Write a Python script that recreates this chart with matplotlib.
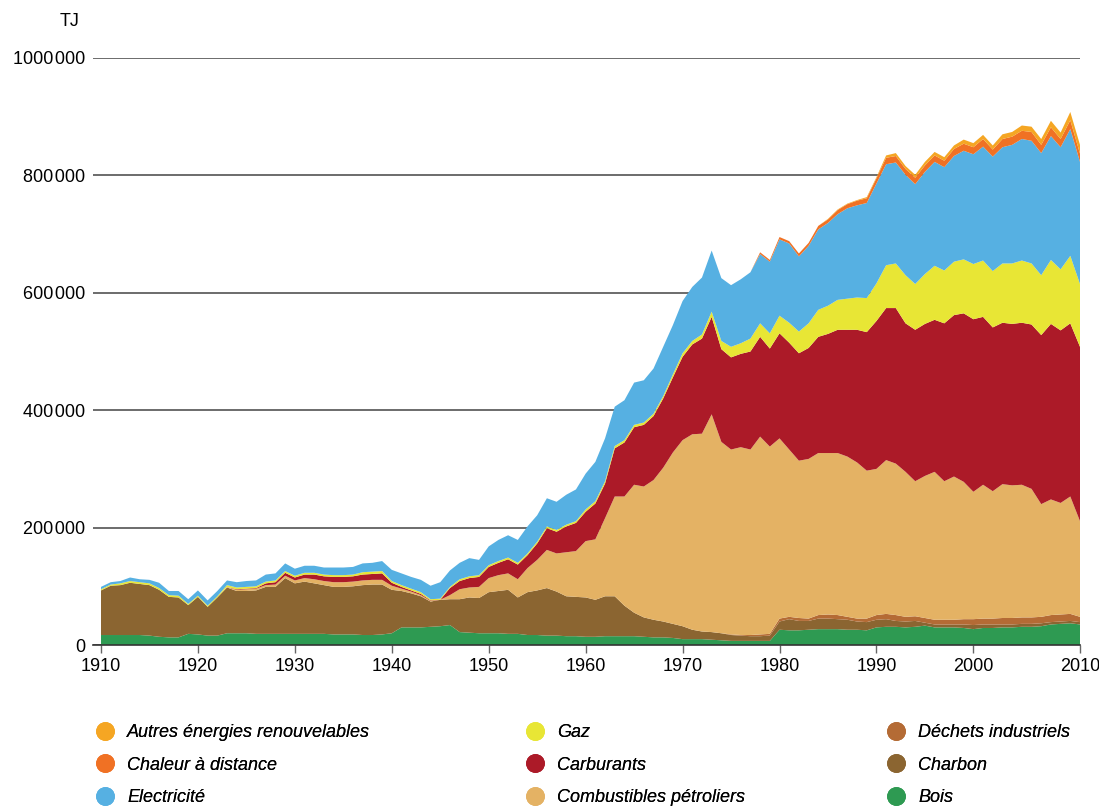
import numpy as np
import matplotlib
matplotlib.use("Agg")
import matplotlib.pyplot as plt
from matplotlib.lines import Line2D

plt.rcParams["font.family"] = ["Liberation Sans", "DejaVu Sans"]

# final energy consumption by carrier, in 1000 TJ, 1910-2011
years = np.arange(1910, 2012)

bois = [17, 17, 17, 17, 17, 16, 14, 13, 13, 19,
        18, 16, 16, 20, 20, 20, 19, 19, 19, 19,
        19, 19, 19, 19, 18, 18, 18, 17, 17, 18,
        20, 30, 30, 30, 31, 32, 34, 22, 21, 20,
        20, 20, 19, 19, 17, 17, 16, 16, 15, 15,
        14, 14, 15, 15, 15, 15, 14, 13, 13, 12,
        10, 10, 10, 9, 8, 7, 7, 7, 7, 7,
        26, 25, 25, 26, 27, 27, 27, 26, 26, 25,
        30, 31, 31, 30, 31, 33, 30, 30, 30, 29,
        27, 29, 29, 30, 30, 31, 31, 32, 35, 36,
        37, 35]
charbon = [76, 84, 85, 89, 87, 86, 80, 69, 68, 49,
           64, 49, 65, 78, 72, 72, 74, 80, 80, 95,
           86, 89, 86, 83, 81, 81, 82, 85, 86, 85,
           74, 62, 58, 53, 43, 45, 44, 56, 60, 60,
           70, 72, 75, 62, 73, 76, 81, 75, 68, 67,
           67, 63, 68, 68, 52, 40, 33, 30, 27, 24,
           22, 16, 13, 13, 12, 10, 9, 8, 8, 9,
           14, 19, 16, 15, 18, 18, 17, 17, 14, 14,
           13, 13, 10, 10, 10, 5, 5, 5, 5, 6,
           7, 6, 6, 5, 5, 5, 5, 5, 4, 4,
           4, 4]
dechets = [0] * 65 + [1, 1, 2, 3, 3,
                      5, 4, 5, 4, 6, 7, 7, 5, 5, 6,
                      8, 9, 10, 8, 8, 8, 8, 8, 8, 9,
                      10, 10, 10, 11, 11, 11, 11, 11, 12, 12,
                      12, 9]
petroliers = [0] * 10 + [0, 0, 0, 1, 2, 3, 3, 3, 4, 4,
                         5, 6, 7, 7, 8, 8, 8, 8, 8, 8,
                         7, 4, 3, 2, 1, 0, 7, 17, 17, 19,
                         24, 27, 28, 31, 41, 52, 65, 65, 75, 78,
                         96, 103, 133, 170, 186, 218, 223, 238, 262, 292,
                         317, 333, 337, 371, 326, 315, 320, 316, 337, 319,
                         307, 285, 268, 272, 276, 275, 276, 273, 266, 252,
                         249, 262, 258, 247, 230, 242, 252, 236, 244, 234,
                         217, 228, 217, 228, 226, 226, 219, 192, 197, 190,
                         200, 163]
carburants = [0] * 10 + [0, 0, 0, 0, 1, 1, 1, 3, 4, 5,
                         5, 6, 8, 8, 9, 9, 9, 10, 10, 11,
                         5, 3, 2, 2, 1, 0, 12, 14, 16, 17,
                         19, 21, 24, 25, 22, 28, 37, 37, 44, 48,
                         50, 61, 59, 82, 92, 98, 105, 109, 118, 128,
                         142, 153, 162, 166, 158, 157, 159, 167, 170, 167,
                         179, 182, 183, 189, 198, 203, 210, 216, 226, 236,
                         252, 259, 265, 253, 258, 259, 259, 269, 275, 287,
                         294, 286, 279, 275, 275, 276, 280, 288, 299, 294,
                         295, 297]
gaz = [2, 2, 3, 3, 3, 3, 3, 3, 3, 2,
       2, 2, 2, 3, 3, 3, 3, 3, 3, 3,
       3, 3, 3, 3, 3, 3, 3, 4, 4, 4,
       3, 3, 3, 3, 2, 2, 2, 3, 3, 3,
       3, 3, 3, 3, 3, 3, 3, 3, 3, 3,
       4, 4, 4, 4, 4, 4, 4, 4, 4, 5,
       6, 6, 7, 9, 14, 18, 18, 22, 23, 26,
       30, 34, 37, 42, 46, 48, 51, 53, 55, 58,
       64, 73, 76, 82, 78, 85, 92, 90, 91, 92,
       94, 96, 96, 101, 103, 106, 104, 102, 109, 104,
       115, 107]
electricite = [4, 4, 4, 6, 5, 6, 9, 7, 8, 8,
               9, 9, 9, 8, 9, 10, 10, 12, 12, 13,
               12, 12, 12, 12, 13, 13, 13, 15, 15, 17,
               19, 20, 20, 21, 23, 28, 28, 28, 31, 26,
               32, 36, 38, 39, 46, 45, 48, 48, 51, 54,
               61, 67, 73, 67, 68, 72, 72, 77, 84, 84,
               89, 92, 97, 104, 107, 105, 109, 113, 118, 122,
               130, 135, 128, 132, 137, 141, 146, 154, 157, 162,
               170, 172, 172, 171, 170, 174, 177, 176, 180, 185,
               187, 194, 195, 198, 202, 207, 209, 208, 211, 208,
               216, 208]
chaleur = [0] * 68 + [3, 3,
                      4, 4, 5, 5, 6, 6, 7, 7, 8, 8,
                      9, 11, 11, 10, 11, 11, 11, 11, 12, 12,
                      12, 13, 12, 14, 14, 14, 15, 14, 15, 14,
                      15, 14]
autres = [0] * 75 + [1, 1, 1, 1, 2,
                     2, 4, 5, 5, 5, 6, 6, 6, 6, 7,
                     7, 7, 7, 8, 8, 9, 9, 10, 11, 11,
                     14, 15]

labels = ["Bois", "Charbon", "Déchets industriels", "Combustibles pétroliers",
          "Carburants", "Gaz", "Electricité", "Chaleur à distance",
          "Autres énergies renouvelables"]
colors = ["#2e9a52", "#8b6531", "#b46b35", "#e4b264", "#ac1a28",
          "#e8e635", "#56b0e2", "#f07124", "#f5a623"]
series = [bois, charbon, dechets, petroliers, carburants, gaz,
          electricite, chaleur, autres]

fig = plt.figure(figsize=(10.99, 8.07), dpi=100)
ax = fig.add_axes([93 / 1099, 162 / 807, 987 / 1099, 587 / 807])

ax.stackplot(years, *[np.array(s) * 1000 for s in series],
             colors=colors, linewidth=0)

ax.set_xlim(1910 - 8 / 9.69, 2011)
ax.set_ylim(0, 1000000)

yt = np.arange(0, 1000001, 200000)
ax.set_yticks(yt)
ax.set_yticklabels([f"{v:,}".replace(",", "", f"{v:,}".count(",") - 1).replace(",", "\u200a")
                    for v in yt])
ax.tick_params(axis="y", length=0, pad=5.5, labelsize=13)
ax.yaxis.grid(True, color="#444444", linewidth=1.1)
ax.set_axisbelow(True)

xt = [1910, 1920, 1930, 1940, 1950, 1960, 1970, 1980, 1990, 2000, 2011]
ax.set_xticks(xt)
ax.set_xticklabels([str(x) for x in range(1910, 2011, 10)])
ax.tick_params(axis="x", length=6, width=1, color="#666666", labelsize=13, pad=3.5)

for s in ["top", "right", "left"]:
    ax.spines[s].set_visible(False)
ax.spines["bottom"].set_color("#333333")
ax.spines["bottom"].set_linewidth(1.2)

fig.text(80 / 1099, 1 - 22 / 807, "TJ", ha="right", va="center", fontsize=13)

# legend: three columns, top to bottom
cols = [[8, 7, 6], [5, 4, 3], [2, 1, 0]]
anchors_x = [96, 526, 887]
for idx, x0 in zip(cols, anchors_x):
    handles = [Line2D([], [], marker="o", ls="", markersize=12.5,
                      markerfacecolor=colors[i], markeredgecolor=colors[i]) for i in idx]
    leg = fig.legend(handles, [labels[i] for i in idx], loc="upper left",
                     bbox_to_anchor=(x0 / 1099, 1 - 724 / 807), frameon=False,
                     prop={"style": "italic", "size": 13}, borderpad=0, borderaxespad=0,
                     handlelength=1.0, handletextpad=0.72, labelspacing=0.86)
    fig.add_artist(leg)

fig.savefig("out.png", dpi=100)
